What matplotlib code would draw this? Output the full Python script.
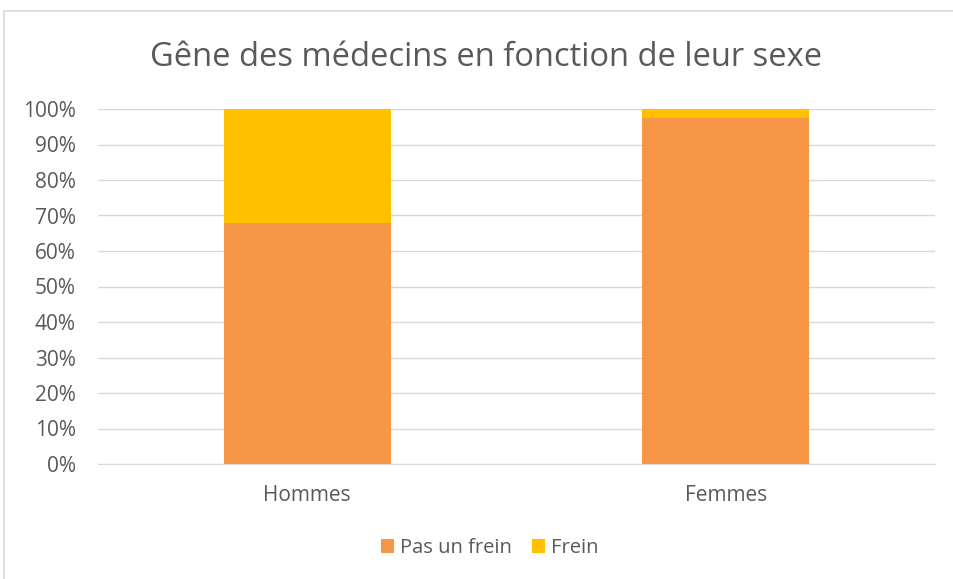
import matplotlib.pyplot as plt
from matplotlib.patches import Rectangle
from matplotlib.ticker import PercentFormatter

categories = ["Hommes", "Femmes"]
pas_un_frein = [67.9, 97.4]
frein = [32.1, 2.6]

ORANGE = "#F79646"
YELLOW = "#FFC000"
TEXT = "#595959"
GRID = "#D9D9D9"

plt.rcParams['font.family'] = ['Open Sans', 'DejaVu Sans']

fig = plt.figure(figsize=(9.54, 5.79), dpi=100)
ax = fig.add_axes([98 / 954, 1 - 464 / 579, (935 - 98) / 954, (464 - 109) / 579])

# outer chart border
fig.patches.append(Rectangle((4.5 / 954, -0.1), 1.2, 1 - 10.5 / 579 + 0.1,
                             transform=fig.transFigure, fill=False,
                             edgecolor=GRID, linewidth=1.2))

x = range(len(categories))
ax.bar(x, pas_un_frein, width=0.4, color=ORANGE, label="Pas un frein", zorder=3)
ax.bar(x, frein, width=0.4, bottom=pas_un_frein, color=YELLOW, label="Frein", zorder=3)

ax.set_xlim(-0.5, 1.5)
ax.set_ylim(0, 100)
ax.set_yticks(range(0, 101, 10))
ax.yaxis.set_major_formatter(PercentFormatter(decimals=0))
ax.set_xticks(list(x))
ax.set_xticklabels(categories)
ax.grid(axis="y", color=GRID, linewidth=1, zorder=0)
for s in ["top", "right", "left"]:
    ax.spines[s].set_visible(False)
ax.spines["bottom"].set_color(GRID)
ax.tick_params(axis="both", length=0, colors=TEXT, labelsize=15)
ax.tick_params(axis="y", pad=16)
ax.tick_params(axis="x", pad=15)

fig.text(486 / 954, 1 - 57 / 579, "Gêne des médecins en fonction de leur sexe",
         ha="center", va="center", fontsize=23.5, color=TEXT)

fig.legend(loc="center", bbox_to_anchor=(490 / 954, 1 - 548 / 579), ncol=2,
           frameon=False, fontsize=14.5, handlelength=0.65, handleheight=0.65,
           handletextpad=0.3, columnspacing=1.0, labelcolor=TEXT)

fig.savefig("out.png", dpi=100)
